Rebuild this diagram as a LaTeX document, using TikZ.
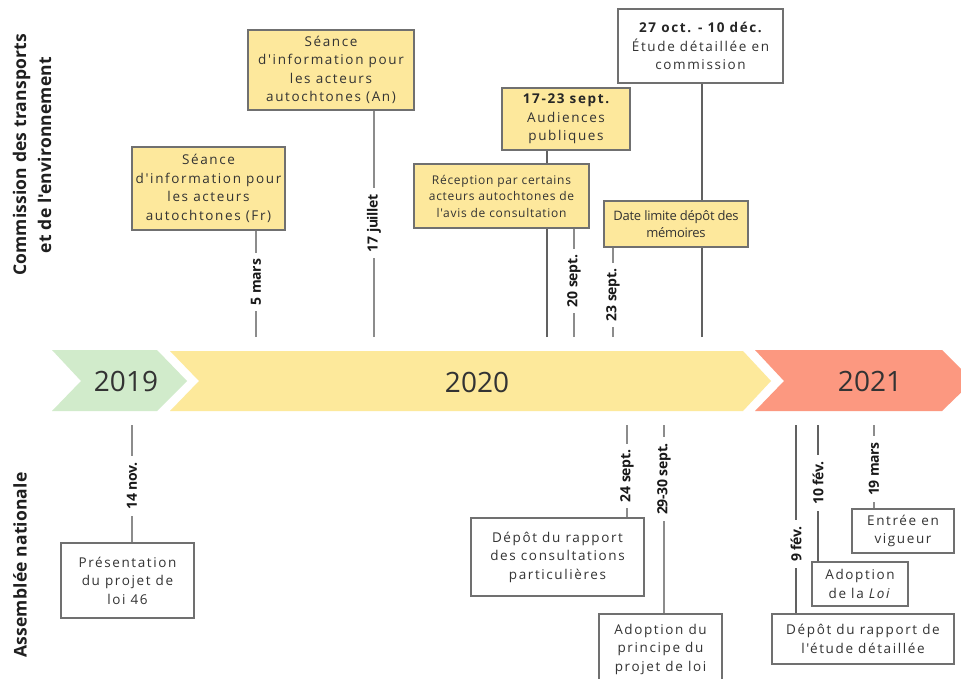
\documentclass[tikz,border=0pt]{standalone}
\usepackage{fontspec}
\setmainfont{Open Sans}
\newfontfamily\boxfont{Open Sans}[LetterSpace=12]
\newfontfamily\recfont{Open Sans}[LetterSpace=6]
\newfontfamily\narrowfont{Open Sans}[LetterSpace=-2]
\newfontfamily\lblfont{Open Sans}[LetterSpace=-2]
\newfontfamily\sidefont{Open Sans}[LetterSpace=1]
\definecolor{cgreen}{HTML}{D1EBCB}
\definecolor{cyellow}{HTML}{FDE99B}
\definecolor{cred}{HTML}{FC9880}
\definecolor{boxyellow}{HTML}{FDE89C}
\definecolor{boxline}{HTML}{707070}
\definecolor{txt}{HTML}{333333}
\tikzset{
  box/.style={draw=boxline, line width=1.2pt, inner sep=0pt, align=center, text=txt,
    font=\boxfont\fontsize{13.5}{18.5}\selectfont},
  ybox/.style={box, fill=boxyellow},
  wbox/.style={box, fill=white},
  conn/.style={draw=black!45, line width=1.2pt},
  connd/.style={draw=black!62, line width=1.2pt},
  datelbl/.style={rotate=90, fill=white, inner xsep=6pt, inner ysep=1pt,
    font=\lblfont\bfseries\fontsize{14}{16}\selectfont, text=black!90},
  year/.style={font=\fontsize{28}{32}\selectfont, text=black!80},
  side/.style={rotate=90, align=center, font=\sidefont\bfseries\fontsize{17.5}{25}\selectfont, text=black!88}
}
\begin{document}
\begin{tikzpicture}[x=1pt,y=-1pt]
\useasboundingbox (0,0) rectangle (961,679);
\clip (0,0) rectangle (961,679);
\fill[white] (0,0) rectangle (961,679);
% chevrons
\fill[cgreen] (52,350) -- (157,350) -- (187,381) -- (157,411) -- (52,411) -- (81,381) -- cycle;
\fill[cyellow] (170,351) -- (743,351) -- (771,381) -- (743,411) -- (170,411) -- (199,381) -- cycle;
\fill[cred] (755,350) -- (942,350) -- (973,381) -- (942,411) -- (755,411) -- (784,381) -- cycle;
\node[year] (y19) at (126,381) {2019};
\node[year] (y20) at (477,382) {2020};
\node[year] (y21) at (870,381) {2021};
% side titles
\node[side] (tcom) at (32,155) {Commission des transports\\et de l'environnement};
\node[side] (tass) at (20,565) {Assemblée nationale};
% free ends of connectors
\coordinate (e5) at (256,337);
\coordinate (e17) at (374,337);
\coordinate (eaud) at (547,337);
\coordinate (e20) at (574,337);
\coordinate (e23) at (613,337);
\coordinate (eoct) at (702,337);
\coordinate (e14) at (132,425);
\coordinate (e24) at (627,425);
\coordinate (e29) at (664,425);
\coordinate (e9) at (796,425);
\coordinate (e10) at (818,425);
\coordinate (e19) at (874,425);
% box positions
\path node[ybox, minimum width=153pt, minimum height=83pt] (fr) at (208.5,188.5) {};
\path node[ybox, minimum width=166pt, minimum height=80pt] (an) at (331,70) {};
\path node[ybox, minimum width=128pt, minimum height=62pt] (aud) at (566,119) {};
\path node[ybox, minimum width=175pt, minimum height=64pt] (rec) at (501.5,196) {};
\path node[ybox, minimum width=144pt, minimum height=46pt] (dat) at (676,224) {};
\path node[wbox, minimum width=165pt, minimum height=74pt] (oct) at (700.5,46) {};
\path node[wbox, minimum width=133pt, minimum height=75pt] (pres) at (127.5,580.5) {};
\path node[wbox, minimum width=173pt, minimum height=78pt] (dep) at (557.5,557) {};
\path node[wbox, minimum width=123pt, minimum height=70pt] (adp) at (660.5,649) {};
\path node[wbox, minimum width=182pt, minimum height=50pt] (etu) at (863,639) {};
\path node[wbox, minimum width=96pt, minimum height=44pt] (loi) at (860,584) {};
\path node[wbox, minimum width=102pt, minimum height=44pt] (ent) at (903,531) {};
% connectors (drawn below the boxes' faces)
\draw[conn] (e5) -- (e5 |- fr.south);
\draw[conn] (e17) -- (e17 |- an.south);
\draw[connd] (eaud) -- (eaud |- aud.south);
\draw[conn] (e20) -- (e20 |- rec.south);
\draw[conn] (e23) -- (e23 |- dat.south);
\draw[connd] (eoct) -- (eoct |- oct.south);
\draw[conn] (e14) -- (e14 |- pres.north);
\draw[conn] (e24) -- (e24 |- dep.north);
\draw[conn] (e29) -- (e29 |- adp.north);
\draw[connd] (e9) -- (e9 |- etu.north);
\draw[connd] (e10) -- (e10 |- loi.north);
\draw[conn] (e19) -- (e19 |- ent.north);
% box faces with text
\node[ybox, minimum width=153pt, minimum height=83pt] at (fr) {Séance\\d'information pour\\les acteurs\\autochtones (Fr)};
\node[ybox, minimum width=166pt, minimum height=80pt] at (an) {Séance\\d'information pour\\les acteurs\\autochtones (An)};
\node[ybox, minimum width=128pt, minimum height=62pt] at (aud) {{\bfseries\color{black!85}17-23 sept.}\\Audiences\\publiques};
\node[ybox, minimum width=175pt, minimum height=64pt, font=\recfont\fontsize{12}{16.5}\selectfont] at (rec) {Réception par certains\\acteurs autochtones de\\l'avis de consultation};
\node[ybox, minimum width=144pt, minimum height=46pt, font=\narrowfont\fontsize{13}{17}\selectfont] at (dat) {Date limite dépôt des\\mémoires};
\node[wbox, minimum width=165pt, minimum height=74pt] at (oct) {{\bfseries\color{black!85}27 oct. - 10 déc.}\\Étude détaillée en\\commission};
\node[wbox, minimum width=133pt, minimum height=75pt] at (pres) {Présentation\\du projet de\\loi 46};
\node[wbox, minimum width=173pt, minimum height=78pt] at (dep) {Dépôt du rapport\\des consultations\\particulières};
\node[wbox, minimum width=123pt, minimum height=70pt] at (adp) {Adoption du\\principe du\\projet de loi};
\node[wbox, minimum width=182pt, minimum height=50pt] at (etu) {Dépôt du rapport de\\l'étude détaillée};
\node[wbox, minimum width=96pt, minimum height=44pt] at (loi) {Adoption\\de la \textit{Loi}};
\node[wbox, minimum width=102pt, minimum height=44pt] at (ent) {Entrée en\\vigueur};
% date labels
\node[datelbl] (l5) at (256,282) {5 mars};
\node[datelbl] (l17) at (374,223) {17 juillet};
\node[datelbl] (l20) at (574,281) {20 sept.};
\node[datelbl] (l23) at (613,295) {23 sept.};
\node[datelbl] (l14) at (132,486) {14 nov.};
\node[datelbl] (l24) at (627,476) {24 sept.};
\node[datelbl] (l29) at (664,479) {29-30 sept.};
\node[datelbl] (l9) at (796,544) {9 fév.};
\node[datelbl] (l10) at (818,483) {10 fév.};
\node[datelbl] (l19) at (874,469) {19 mars};
\end{tikzpicture}
\end{document}
